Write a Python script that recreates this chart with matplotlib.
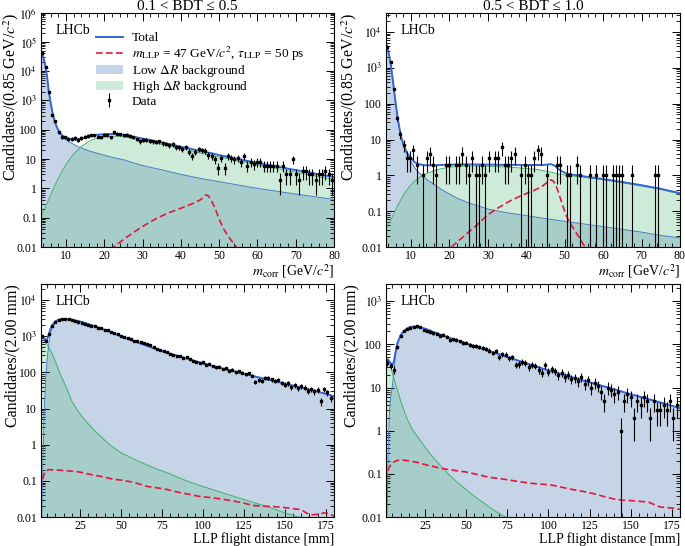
import numpy as np
import matplotlib
matplotlib.use('Agg')
import matplotlib.pyplot as plt
from matplotlib.ticker import MultipleLocator, LogLocator, FuncFormatter, NullFormatter, FixedLocator
from matplotlib.lines import Line2D
from matplotlib.patches import Patch

plt.rcParams['font.family'] = ['Liberation Serif', 'DejaVu Serif']
plt.rcParams['mathtext.fontset'] = 'stix'

# ---------------- m_corr, 0.1 < BDT <= 0.5 ----------------
mA_counts = [42000, 13500, 1950, 330, 200, 82, 57, 56, 50, 48,
             52, 45, 52, 58, 62, 66, 64, 58, 56, 68,
             67, 55, 82, 74, 70, 66, 68, 62, 55, 47,
             40, 44, 46, 42, 40, 38, 40, 34, 33, 30,
             32, 25, 26, 22, 25, 18, 13, 18, 22, 20,
             19, 14, 13, 10, 5, 11, 5, 13, 11, 10,
             11, 8, 13, 6, 8, 7, 8, 8, 6, 6,
             6, 6, 6, 2, 6, 3, 3, 10, 3, 2,
             4, 4, 3, 3, 2, 3, 3, 4, 3, 2]
mA_low_x = [3.4, 3.8, 4.25, 4.7, 5.1, 5.5, 5.95, 6.4, 6.8, 7.2, 7.65, 8.1, 8.9, 9.8, 11, 12, 13, 14,
            16, 18, 20, 22, 25, 30, 35, 40, 45, 50, 55, 60, 65, 70, 75, 80]
mA_low = [50000, 42000, 25000, 13500, 6000, 2100, 900, 430, 260, 170, 120, 90, 62, 48, 38, 32, 27, 24,
          19, 16, 13.5, 11.5, 9.5, 6.0, 4.3, 3.0, 2.2, 1.7, 1.3, 1.0, 0.8, 0.64, 0.52, 0.42]
mA_high_x = [3.4, 4, 5, 6, 7, 8, 9, 10, 11, 12, 13, 14, 15, 16, 17, 18, 19, 20, 21, 22, 23, 24, 25, 26,
             27, 28, 30, 32, 34, 36, 38, 40, 42, 44, 46, 48, 50, 52, 54, 56, 58, 60, 62, 64, 66, 68,
             70, 72, 74, 76, 78, 80]
mA_high = [0.1, 0.15, 0.3, 0.6, 1.2, 2.2, 3.9, 6.5, 10, 15, 20, 26.5, 33, 40, 46, 51, 54.5, 57, 59, 60,
           60, 59.5, 57.5, 55, 52, 49, 44, 39, 34, 30, 26.5, 23, 20.5, 17.5, 15, 13.5, 11.8, 10.5,
           9.2, 8.1, 7.2, 6.4, 5.7, 5.1, 4.5, 4.0, 3.56, 3.2, 2.85, 2.5, 2.25, 2.03]
mA_tot_x = [3.4, 3.8, 4.25, 4.7, 5.1, 5.5, 5.95, 6.4, 6.8, 7.2, 7.65, 8.1, 8.9, 9.8, 11, 12, 13, 14, 15,
            16, 17, 18, 19, 20, 22, 24, 26, 28, 30, 32, 34, 36, 38, 40, 42, 44, 46, 47, 48, 50, 52, 54,
            56, 58, 60, 62, 64, 66, 68, 70, 72, 74, 76, 78, 80]
mA_tot = [50000, 42000, 25000, 13500, 6000, 2100, 900, 431, 261, 171, 122, 92, 66, 54, 48, 47, 47,
          50.5, 54, 59, 63.5, 67, 69, 70.5, 71.5, 69.7, 64, 56.6, 50, 44.4, 38.8, 34.3, 30.2, 26.2,
          23.5, 20.2, 17.6, 16.8, 15.8, 13.6, 12.1, 10.6, 9.35, 8.3, 7.4, 6.6, 5.9, 5.3, 4.7, 4.2,
          3.8, 3.4, 3.0, 2.7, 2.45]
mA_sig_x = [21.5, 22.5, 25, 28, 31, 34, 37, 40, 43, 45, 46, 46.6, 47.2, 48, 49, 50, 51, 52, 53, 54.5, 56]
mA_sig = [0.008, 0.01, 0.018, 0.034, 0.06, 0.1, 0.15, 0.21, 0.3, 0.4, 0.5, 0.6, 0.55, 0.38, 0.2,
          0.09, 0.045, 0.028, 0.018, 0.01, 0.0065]

# ---------------- m_corr, 0.5 < BDT <= 1.0 ----------------
mB_counts = [3800, 1450, 250, 40, 14, 7, 3, 3, 5, 2,
             0, 1, 3, 4, 2, 1, 0, 0, 2, 2,
             0, 2, 2, 4, 2, 1, 3, 1, 1, 2,
             1, 3, 0, 3, 3, 6, 2, 2, 3, 4,
             0, 1, 2, 1, 1, 3, 5, 4, 0, 1,
             0, 0, 2, 2, 0, 1, 1, 0, 2, 1,
             0, 0, 1, 0, 1, 0, 1, 1, 0, 1,
             1, 1, 1, 0, 0, 1, 0, 0, 0, 0,
             0, 0, 1, 1, 0, 0, 0, 0, 0, 0]
mB_low_x = [3.4, 3.8, 4.25, 4.7, 5.1, 5.5, 5.95, 6.4, 6.8, 7.2, 7.65, 8.1, 9, 10, 11, 12, 13, 14,
            16, 18, 20, 22, 25, 30, 35, 40, 45, 50, 55, 60, 65, 70, 75, 80]
mB_low = [5000, 3900, 2300, 1300, 600, 270, 110, 48, 26, 15, 9.5, 6.5, 3.7, 2.4, 1.6, 1.2, 0.95, 0.78,
          0.55, 0.4, 0.3, 0.23, 0.17, 0.115, 0.09, 0.075, 0.062, 0.052, 0.044, 0.037, 0.031, 0.026,
          0.021, 0.018]
mB_high_x = [3.4, 4, 5, 6, 7, 8, 9, 10, 11, 12, 13, 14, 16, 18, 20, 22, 25, 28, 31, 34, 37, 40, 43, 46,
             48, 50, 55, 60, 65, 70, 75, 80]
mB_high = [0.032, 0.04, 0.065, 0.11, 0.18, 0.28, 0.4, 0.55, 0.7, 0.85, 1.0, 1.12, 1.35, 1.55, 1.68,
           1.77, 1.82, 1.82, 1.78, 1.72, 1.65, 1.55, 1.45, 1.25, 1.12, 1.02, 0.88, 0.75, 0.62, 0.5,
           0.4, 0.3]
mB_tot_x = [3.4, 3.8, 4.25, 4.7, 5.1, 5.5, 5.95, 6.4, 6.8, 7.2, 7.65, 8.1, 9, 10, 11, 12, 13, 14, 16,
            18, 20, 22, 25, 28, 31, 34, 37, 40, 43, 44, 45.5, 46.3, 47, 47.8, 48.5, 49.5, 50.5, 51.5,
            52.5, 54, 56, 60, 65, 70, 75, 80]
mB_tot = [5000, 3900, 2300, 1300, 600, 270, 110, 48, 26.1, 15.2, 9.7, 6.8, 4.1, 2.95, 2.3, 2.05,
          1.95, 1.9, 1.9, 1.95, 1.98, 2.01, 2.02, 2.0, 1.99, 1.96, 1.96, 1.94, 1.95, 1.93, 2.0, 2.05,
          1.96, 1.7, 1.46, 1.25, 1.12, 1.075, 1.03, 0.98, 0.9, 0.79, 0.65, 0.53, 0.42, 0.32]
mB_sig_x = [20.5, 23, 27, 30, 33, 36, 39, 42, 44, 45.5, 46.3, 47, 47.8, 48.5, 49.5, 50.5, 51.5, 52.5,
            54, 55, 56.5]
mB_sig = [0.01, 0.017, 0.04, 0.08, 0.13, 0.2, 0.28, 0.38, 0.48, 0.65, 0.75, 0.7, 0.5, 0.3, 0.14,
          0.07, 0.045, 0.03, 0.017, 0.011, 0.0075]

# ---------------- flight distance, 0.1 < BDT <= 0.5 ----------------
dC_counts = [1000, 760, 1130, 1950, 2550, 2850, 2980, 3010, 2990, 2850,
             2700, 2520, 2400, 2200, 2120, 1980, 1880, 1750, 1690, 1520,
             1450, 1300, 1230, 1150, 1040, 960, 890, 840, 760, 720,
             690, 640, 600, 560, 510, 460, 430, 400, 360, 320,
             300, 290, 280, 250, 260, 235, 210, 200, 185, 190,
             165, 170, 150, 138, 145, 125, 130, 112, 118, 100,
             108, 98, 88, 94, 82, 56, 62, 58, 72, 70,
             64, 58, 62, 52, 46, 50, 40, 44, 36, 42,
             38, 31, 34, 30, 33, 16, 34, 28, 20]
dC_low_x = [1.5, 2, 2.5, 3, 3.5, 4, 5, 6, 7, 8, 10, 12, 14, 16, 18, 20, 22, 24, 26, 28, 30,
            35, 40, 45, 50, 55, 60, 65, 70, 75, 80, 90, 100, 110, 120, 130, 140, 150, 160, 170, 180]
dC_low = [0.004, 0.05, 0.6, 5, 20, 60, 250, 650, 1200, 1700, 2400, 2780, 2930, 2970, 2940, 2860,
          2750, 2625, 2495, 2336, 2186, 1838, 1509, 1229, 999, 821, 676, 562, 468, 394, 331, 245,
          178, 135, 105, 81, 63, 49, 38, 29.5, 21.9]
dC_high_x = [1, 1.5, 2, 3, 4, 5, 6, 7, 8, 10, 12, 14, 17, 20, 23, 26, 30, 35, 43, 50, 60, 70, 80,
             90, 100, 110, 120, 130, 140, 150, 160, 170, 180]
dC_high = [940, 985, 1000, 880, 700, 580, 480, 400, 330, 200, 115, 70, 36, 16, 9.5, 6.2, 3.8, 2.2,
           1.0, 0.6, 0.36, 0.23, 0.155, 0.1, 0.07, 0.05, 0.036, 0.026, 0.019, 0.013, 0.0095,
           0.0072, 0.0055]
dC_tot_x = [1, 1.5, 2, 2.5, 3, 3.5, 4, 4.5, 5, 6, 7, 8, 10, 12, 14, 16, 18, 20, 22, 24, 26, 28, 30,
            35, 40, 45, 50, 55, 60, 65, 70, 75, 80, 90, 100, 110, 120, 130, 140, 150, 160, 170, 180]
dC_tot = [940, 985, 1000, 945, 885, 810, 760, 780, 830, 1130, 1600, 2030, 2600, 2895, 3000, 3015,
          2967, 2876, 2762, 2633, 2501, 2341, 2190, 1840, 1510, 1230, 1000, 822, 677, 562, 468, 394,
          331, 245, 178, 135, 105, 81, 63, 49, 38, 29.5, 21.9]
dC_sig_x = [1, 2, 3, 4, 6, 10, 15, 20, 25, 30, 37, 45, 50, 57, 62, 66, 72, 78, 82, 86, 92, 98,
            106, 112, 118, 124, 130, 136, 142, 149, 155, 160, 163, 166, 170, 174, 177, 180]
dC_sig = [0.06, 0.1, 0.15, 0.19, 0.205, 0.2, 0.195, 0.185, 0.175, 0.155, 0.135, 0.112, 0.105,
          0.093, 0.08, 0.07, 0.064, 0.058, 0.052, 0.047, 0.042, 0.037, 0.034, 0.031, 0.028, 0.025,
          0.021, 0.02, 0.0195, 0.0185, 0.017, 0.016, 0.013, 0.0115, 0.0118, 0.013, 0.0125, 0.0105]

# ---------------- flight distance, 0.5 < BDT <= 1.0 ----------------
dD_counts = [38, 32, 26, 88, 160, 205, 225, 245, 255, 262,
             250, 218, 205, 198, 182, 178, 160, 168, 150, 125,
             132, 126, 118, 108, 110, 96, 92, 90, 86, 82,
             80, 72, 64, 70, 50, 60, 58, 48, 50, 34,
             35, 40, 38, 30, 34, 32, 26, 22, 33, 23,
             27, 24, 19, 22, 18, 20, 16, 17, 14, 18,
             12, 15, 10, 13, 11, 8, 5, 10, 9, 7,
             8, 1, 5, 7, 6, 2, 5, 4, 6, 5,
             2, 5, 3, 3, 4, 3, 5, 2, 4]
dD_low_x = [1.5, 2, 2.5, 3, 3.5, 4, 5, 6, 7, 8, 10, 12, 14, 16, 18, 20, 22, 24, 26, 28, 30, 34, 40,
            50, 60, 70, 80, 90, 100, 110, 120, 130, 140, 150, 160, 170, 180]
dD_low = [0.004, 0.03, 0.3, 1.5, 4, 6, 10, 25, 55, 95, 158, 200, 232, 252, 257, 256, 247, 236, 224,
          209, 194, 170, 141, 105, 78.5, 59, 44, 33, 24.8, 19.3, 15.0, 11.7, 9.1, 7.0, 5.5, 4.3, 3.3]
dD_high_x = [1, 1.5, 2, 2.5, 3, 4, 5, 6, 7, 8, 10, 12, 14, 17, 20, 24, 28, 34, 39, 44, 50, 55, 60,
             65, 70, 75, 80]
dD_high = [38, 44, 45, 44, 40, 30, 22, 16, 12, 9, 5, 3.0, 1.9, 1.1, 0.75, 0.47, 0.29, 0.16, 0.1,
           0.066, 0.043, 0.03, 0.022, 0.016, 0.012, 0.0095, 0.0075]
dD_tot_x = [1, 1.5, 2, 2.5, 3, 3.5, 4, 5, 6, 7, 8, 10, 12, 14, 16, 18, 20, 22, 24, 26, 28, 30, 34,
            40, 50, 60, 70, 80, 90, 100, 110, 120, 130, 140, 150, 160, 170, 180]
dD_tot = [38, 44, 45, 44.3, 41.5, 39, 36, 32, 41, 67, 104, 163, 203, 234, 253.4, 258, 256.8, 247.6,
          236.5, 224.4, 209.3, 194.2, 170.2, 141.1, 105, 78.5, 59, 44, 33, 24.8, 19.3, 15.0, 11.7,
          9.1, 7.0, 5.5, 4.3, 3.3]
dD_sig_x = [1, 2, 3, 5, 8, 11, 15, 20, 26, 30, 34, 40, 45, 50, 55, 60, 64, 70, 74, 80, 86, 90, 95,
            102, 108, 115, 120, 127, 135, 140, 145, 150, 156, 161, 165, 168, 172, 176, 180]
dD_sig = [0.07, 0.1, 0.14, 0.18, 0.205, 0.21, 0.2, 0.185, 0.16, 0.148, 0.135, 0.125, 0.117, 0.11,
          0.1, 0.09, 0.083, 0.078, 0.074, 0.068, 0.063, 0.06, 0.058, 0.055, 0.049, 0.043, 0.04,
          0.035, 0.029, 0.026, 0.0245, 0.024, 0.023, 0.022, 0.019, 0.017, 0.0165, 0.016, 0.015]

m_centres = np.arange(90) * 0.85 + 3.825
d_centres = np.arange(89) * 2.0 + 2.0

BLUE_FILL = '#4173b2'
GREEN_FILL = '#5fc084'
BLUE_EDGE = '#4a7cc4'
GREEN_EDGE = '#3fb16e'
TOTAL_C = '#3366d6'
SIG_C = '#e3173e'


def log_label(v, pos):
    e = int(round(np.log10(v)))
    if e >= 3:
        return r'$10^{%d}$' % e
    if e >= 0:
        return '%d' % round(v)
    return '%.*f' % (-e, v)


def draw(ax, xc, counts, lx, ly, hx, hy, tx, ty, sx, sy):
    ax.fill_between(lx, 1e-5, ly, color=BLUE_FILL, alpha=0.3, lw=0)
    ax.plot(lx, ly, color=BLUE_EDGE, lw=0.7)
    ax.fill_between(hx, 1e-5, hy, color=GREEN_FILL, alpha=0.3, lw=0)
    ax.plot(hx, hy, color=GREEN_EDGE, lw=0.7)
    ax.plot(tx, ty, color=TOTAL_C, lw=1.4)
    ax.plot(sx, sy, color=SIG_C, lw=1.2, ls=(0, (4, 2)))
    n = np.asarray(counts, float)
    keep = n > 0
    x, n = xc[keep], n[keep]
    err = np.sqrt(n)
    lo = n - np.maximum(n - err, 1e-4)
    return ax.errorbar(x, n, yerr=[lo, err], fmt='s', ms=2.0, color='k',
                       elinewidth=0.8, capsize=0)


def style(ax, ylim, mass, ylab_x):
    ax.set_yscale('log')
    ax.set_ylim(*ylim)
    ax.yaxis.set_major_locator(LogLocator(base=10, numticks=20))
    ax.yaxis.set_minor_locator(LogLocator(base=10, subs=np.arange(2, 10), numticks=20))
    ax.yaxis.set_major_formatter(FuncFormatter(log_label))
    ax.yaxis.set_minor_formatter(NullFormatter())
    if mass:
        ax.set_xlim(3.4, 80)
        ax.xaxis.set_major_locator(MultipleLocator(10))
        ax.xaxis.set_minor_locator(MultipleLocator(2))
        ax.set_xlabel(r'$m_{\rm corr}$ [GeV/$c^2$]', loc='right', fontsize=10)
        ax.set_ylabel(r'Candidates/(0.85 GeV/$c^2$)', loc='top', fontsize=11.5)
    else:
        ax.set_xlim(1, 180)
        ax.xaxis.set_major_locator(FixedLocator([25, 50, 75, 100, 125, 150, 175]))
        ax.xaxis.set_minor_locator(MultipleLocator(5))
        ax.set_xlabel('LLP flight distance [mm]', loc='right', fontsize=10)
        ax.set_ylabel('Candidates/(2.00 mm)', loc='top', fontsize=11.5)
    ax.xaxis.set_label_coords(1.0, -0.066)
    ax.yaxis.set_label_coords(ylab_x, 1.0)
    ax.tick_params(which='both', direction='in', top=True, right=True, labelsize=8.5)
    ax.tick_params(which='major', length=6, width=0.7, pad=2.5)
    ax.tick_params(which='minor', length=3, width=0.6)
    ax.text(0.05, 0.925, 'LHCb', transform=ax.transAxes, fontsize=10, va='center')


fig = plt.figure(figsize=(6.85, 5.46), dpi=100)
axA = fig.add_axes([0.0594, 0.5476, 0.4282, 0.4295])
axB = fig.add_axes([0.5631, 0.5476, 0.4296, 0.4295])
axC = fig.add_axes([0.0594, 0.0531, 0.4282, 0.4267])
axD = fig.add_axes([0.5631, 0.0531, 0.4296, 0.4267])

eb = draw(axA, m_centres, mA_counts, mA_low_x, mA_low, mA_high_x, mA_high, mA_tot_x, mA_tot, mA_sig_x, mA_sig)
draw(axB, m_centres, mB_counts, mB_low_x, mB_low, mB_high_x, mB_high, mB_tot_x, mB_tot, mB_sig_x, mB_sig)
draw(axC, d_centres, dC_counts, dC_low_x, dC_low, dC_high_x, dC_high, dC_tot_x, dC_tot, dC_sig_x, dC_sig)
draw(axD, d_centres, dD_counts, dD_low_x, dD_low, dD_high_x, dD_high, dD_tot_x, dD_tot, dD_sig_x, dD_sig)

style(axA, (0.01, 1e6), True, -0.068)
style(axB, (0.01, 3.5e4), True, -0.09)
style(axC, (0.01, 2.8e4), False, -0.068)
style(axD, (0.01, 2.5e3), False, -0.09)

axA.set_title('0.1 < BDT ≤ 0.5', fontsize=11, pad=1)
axB.set_title('0.5 < BDT ≤ 1.0', fontsize=11, pad=1)

handles = [Line2D([], [], color=TOTAL_C, lw=1.4),
           Line2D([], [], color=SIG_C, lw=1.2, ls=(0, (4, 2))),
           Patch(facecolor=BLUE_FILL, alpha=0.3, lw=0),
           Patch(facecolor=GREEN_FILL, alpha=0.3, lw=0),
           eb]
labels = ['Total',
          r'$m_{\rm LLP}$ = 47 GeV/$c^2$, $\tau_{\rm LLP}$ = 50 ps',
          r'Low $\Delta R$ background',
          r'High $\Delta R$ background',
          'Data']
axA.legend(handles, labels, loc='upper left', bbox_to_anchor=(0.17, 0.94), frameon=False,
           fontsize=9.6, handlelength=2.0, handletextpad=0.7, labelspacing=0.02, borderaxespad=0)

fig.savefig('out.png', dpi=100)
